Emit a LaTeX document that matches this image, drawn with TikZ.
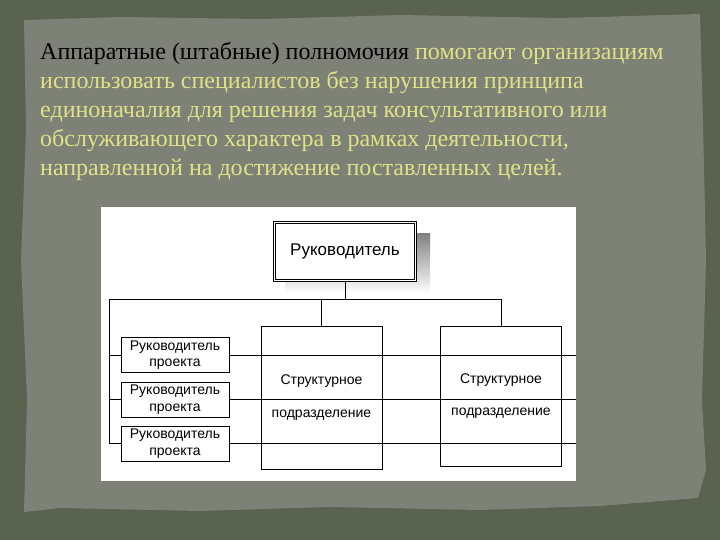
\documentclass[tikz,border=0pt]{standalone}
\usepackage{fontspec}
\setmainfont{Liberation Serif}
\newfontfamily\chartfont{Liberation Sans}
\usetikzlibrary{positioning,calc}
\definecolor{framegreen}{RGB}{90,98,80}
\definecolor{paper}{RGB}{125,129,118}
\definecolor{goldtext}{RGB}{224,226,135}
\definecolor{shade}{RGB}{198,198,198}

\tikzset{
  link/.style={line width=0.9pt},
  projbox/.style={draw, fill=white, line width=0.9pt, minimum width=108pt, minimum height=35pt,
    inner sep=0pt, align=center, font=\chartfont\fontsize{14}{16.5}\selectfont},
  unitbox/.style={draw, line width=0.9pt, minimum width=121pt, inner sep=0pt, align=center,
    font=\chartfont\fontsize{14}{16.5}\selectfont},
}

\begin{document}
\begin{tikzpicture}[x=1pt,y=-1pt]
  \useasboundingbox (0,0) rectangle (720,540);
  \fill[framegreen] (0,0) rectangle (720,540);
  % torn paper sheet
  \fill[paper] (24,20) -- (120,17) -- (260,19) -- (400,15) -- (560,18) -- (700,14)
    -- (703,120) -- (706,260) -- (702,400) -- (706,470) -- (698,498)
    -- (600,506) -- (480,510) -- (330,507) -- (200,511) -- (60,508) -- (24,512)
    -- (27,400) -- (21,260) -- (26,130) -- cycle;

  \node[anchor=north west, inner sep=0pt, align=left, font=\fontsize{24}{29}\selectfont] (title) at (40,42)
    {Аппаратные (штабные) полномочия \textcolor{goldtext}{помогают организациям}\\
     \textcolor{goldtext}{использовать специалистов без нарушения принципа}\\
     \textcolor{goldtext}{единоначалия для решения задач консультативного или}\\
     \textcolor{goldtext}{обслуживающего характера в рамках деятельности,}\\
     \textcolor{goldtext}{направленной на достижение поставленных целей.}};

  % chart
  \fill[white] (101,207) rectangle (576,481);
  \fill[shade] (285,233) rectangle (430,293);
  \node[draw, fill=white, line width=0.7pt, double, double distance=1.8pt, minimum width=141pt,
    minimum height=58pt, font=\chartfont\fontsize{17}{20}\selectfont] (boss) at (345,251.5) {Руководитель};

  \node[unitbox, minimum height=143pt] (s1) at (321.5,397.5) {Структурное\\[16pt]подразделение};
  \node[unitbox, minimum height=140pt] (s2) at (501,396) {Структурное\\[16pt]подразделение};

  \node[projbox] (p1) at (175,355) {Руководитель\\проекта};
  \node[projbox] (p2) at (175,399.5) {Руководитель\\проекта};
  \node[projbox] (p3) at (175,443.5) {Руководитель\\проекта};

  \coordinate (bus) at (109,299);
  \coordinate (edge) at (576,299);
  \draw[link] (boss.south) -- (boss.south |- bus);
  \draw[link] (bus) -- (s2.north |- bus) -- (s2.north);
  \draw[link] (s1.north |- bus) -- (s1.north);
  \draw[link] (bus) -- (bus |- p3.west);
  \foreach \p in {p1,p2,p3} {
    \draw[link] (bus |- \p.west) -- (\p.west);
    \draw[link] (\p.east) -- (\p.east -| edge);
  }
\end{tikzpicture}
\end{document}
